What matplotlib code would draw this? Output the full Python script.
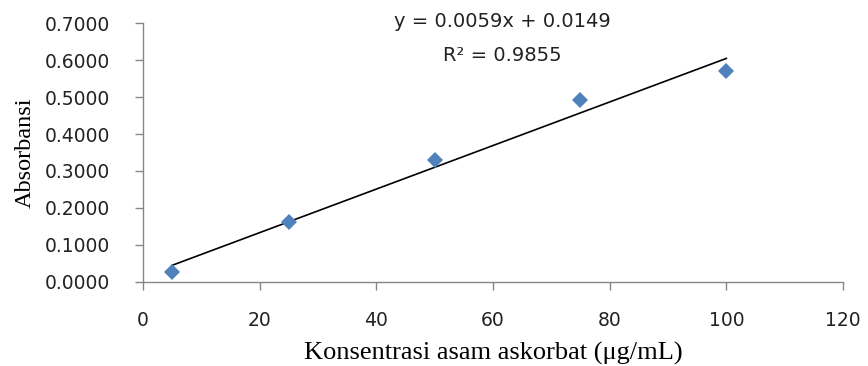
import numpy as np
import matplotlib.pyplot as plt

konsentrasi = [5, 25, 50, 75, 100]
absorbansi = [0.025, 0.161, 0.330, 0.493, 0.572]
slope = 0.0059
intercept = 0.0149
r2 = 0.9855

fig = plt.figure(figsize=(8.68, 3.66), dpi=100)
ax = fig.add_axes([0.1647, 0.2303, 0.8065, 0.706])

xl = np.array([konsentrasi[0], konsentrasi[-1]])
ax.plot(xl, slope * xl + intercept, color='black', lw=1.2, zorder=2)
ax.plot(konsentrasi, absorbansi, 'D', color='#4F81BD', markersize=8.5,
        markeredgewidth=0, zorder=3)

ax.set_xlim(0, 120)
ax.set_ylim(0, 0.7)
ax.set_xticks(np.arange(0, 121, 20))
ax.set_yticks(np.arange(0, 0.71, 0.1))
ax.set_yticklabels(['%.4f' % v for v in np.arange(0, 0.71, 0.1)])

for s in ['top', 'right']:
    ax.spines[s].set_visible(False)
for s in ['left', 'bottom']:
    ax.spines[s].set_color('#868686')
    ax.spines[s].set_linewidth(1.0)
ax.tick_params(colors='#868686', length=6, width=1.0, labelcolor='#222222',
               labelsize=13.5)
ax.tick_params(axis='x', pad=15)
ax.tick_params(axis='y', pad=18)
for lab in ax.get_xticklabels() + ax.get_yticklabels():
    lab.set_family('DejaVu Sans')

ax.set_xlabel('Konsentrasi asam askorbat (μg/mL)', family='Liberation Serif',
              fontsize=19, labelpad=9)
ax.set_ylabel('Absorbansi', family='Liberation Serif', fontsize=17.5,
              labelpad=6)

fig.text(0.579, 0.94, 'y = 0.0059x + 0.0149', ha='center', va='center',
         family='DejaVu Sans', fontsize=14, color='#222222')
fig.text(0.579, 0.848, 'R² = 0.9855', ha='center', va='center',
         family='DejaVu Sans', fontsize=14, color='#222222')

fig.savefig('out.png', dpi=100)
